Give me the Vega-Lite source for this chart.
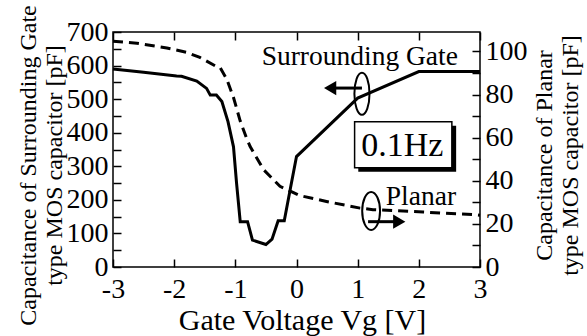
{
  "$schema": "https://vega.github.io/schema/vega-lite/v6.json",
  "autosize": {"type": "none"},
  "padding": {"left": 113, "top": 32, "right": 107, "bottom": 69},
  "width": 367,
  "height": 235,
  "config": {
    "view": {"stroke": "black", "strokeWidth": 1.5},
    "font": "Liberation Serif",
    "axis": {
      "labelFont": "Liberation Serif",
      "titleFont": "Liberation Serif",
      "labelColor": "black",
      "titleColor": "black",
      "labelFontSize": 28,
      "titleFontWeight": "normal",
      "grid": false,
      "domain": false,
      "tickColor": "black",
      "tickWidth": 1.5,
      "tickSize": -8,
      "labelPadding": 13,
      "labelOverlap": false
    }
  },
  "datasets": {
    "sg": [
      {"vg": -3, "c": 590}, {"vg": -2.5, "c": 580}, {"vg": -1.96, "c": 569},
      {"vg": -1.88, "c": 568}, {"vg": -1.63, "c": 554}, {"vg": -1.47, "c": 532},
      {"vg": -1.41, "c": 512}, {"vg": -1.31, "c": 512}, {"vg": -1.22, "c": 493},
      {"vg": -1.12, "c": 433}, {"vg": -1.06, "c": 383}, {"vg": -1.03, "c": 358},
      {"vg": -0.98, "c": 250}, {"vg": -0.92, "c": 135}, {"vg": -0.8, "c": 135},
      {"vg": -0.72, "c": 80}, {"vg": -0.5, "c": 67}, {"vg": -0.4, "c": 83},
      {"vg": -0.3, "c": 138}, {"vg": -0.2, "c": 138}, {"vg": -0.1, "c": 234},
      {"vg": 0, "c": 329}, {"vg": 1, "c": 503}, {"vg": 2, "c": 582}, {"vg": 3, "c": 582}
    ],
    "pl": [
      {"vg": -3, "c": 104.7}, {"vg": -2.61, "c": 103.8}, {"vg": -2.12, "c": 101.6},
      {"vg": -1.8, "c": 99.6}, {"vg": -1.58, "c": 97.2}, {"vg": -1.33, "c": 93.3},
      {"vg": -1.25, "c": 92.6}, {"vg": -1.14, "c": 87.1}, {"vg": -1.03, "c": 78.6},
      {"vg": -0.92, "c": 67.7}, {"vg": -0.82, "c": 60}, {"vg": -0.76, "c": 56},
      {"vg": -0.54, "c": 45.2}, {"vg": -0.27, "c": 37.4}, {"vg": 0.06, "c": 33.1},
      {"vg": 0.49, "c": 30.4}, {"vg": 1.04, "c": 27.3}, {"vg": 1.25, "c": 26.6},
      {"vg": 2.07, "c": 25.5}, {"vg": 2.94, "c": 24.2}, {"vg": 3, "c": 24}
    ],
    "shafts": [
      {"x1": 0.6, "x2": 1.07, "y": 533},
      {"x1": 1.17, "x2": 1.62, "y": 135}
    ],
    "headL": [{"x": 0.55, "y": 533}],
    "headR": [{"x": 1.68, "y": 135}],
    "ellA": [{"x": 1.07, "y": 516}],
    "ellB": [{"x": 1.22, "y": 167}],
    "box": [{"x1": 0.95, "x2": 2.54, "y1": 296, "y2": 433}],
    "shadow": [{"x1": 1.01, "x2": 2.61, "y1": 284, "y2": 421}],
    "labels": [
      {"x": -0.57, "y": 602, "t": "Surrounding Gate"},
      {"x": 1.46, "y": 185, "t": "Planar"}
    ],
    "hz": [{"x": 1.73, "y": 360, "t": "0.1Hz"}]
  },
  "layer": [
    {
      "data": {"name": "sg"},
      "mark": {"type": "line", "color": "black", "strokeWidth": 3},
      "encoding": {
        "x": {"field": "vg", "type": "quantitative",
          "scale": {"domain": [-3, 3], "nice": false},
          "axis": {"orient": "bottom", "values": [-3, -2, -1, 0, 1, 2, 3], "labelExpr": "'' + datum.value", "labelFont": "Liberation Serif", "labelFontSize": 28, "labelOverlap": false,
            "title": "Gate Voltage Vg [V]", "titleFontSize": 30, "titleX": 189, "labelPadding": 16, "titlePadding": 2, "labelFlush": false}},
        "y": {"field": "c", "type": "quantitative",
          "scale": {"domain": [0, 700], "nice": false},
          "axis": {"orient": "left", "values": [0, 50, 100, 150, 200, 250, 300, 350, 400, 450, 500, 550, 600, 650, 700],
            "labelExpr": "datum.value % 100 == 0 ? '' + datum.value : ''",
            "labelFont": "Liberation Serif", "labelFontSize": 28, "labelOverlap": false,
            "title": ["Capacitance of Surrounding Gate", "type MOS capacitor [pF]"],
            "titleFontSize": 24, "titleLineHeight": 26, "titlePadding": 0, "titleY": 133, "labelFlush": false}}
      }
    },
    {
      "data": {"name": "pl"},
      "mark": {"type": "line", "color": "black", "strokeWidth": 3, "strokeDash": [10, 6]},
      "encoding": {
        "x": {"field": "vg", "type": "quantitative",
          "axis": {"orient": "top", "values": [-3, -2, -1, 0, 1, 2, 3], "labels": false, "title": null}},
        "y": {"field": "c", "type": "quantitative",
          "scale": {"domain": [0, 109], "nice": false},
          "axis": {"orient": "right", "values": [0, 10, 20, 30, 40, 50, 60, 70, 80, 90, 100],
            "labelExpr": "datum.value % 20 == 0 ? '' + datum.value : ''",
            "labelFont": "Liberation Serif", "labelFontSize": 28, "labelOverlap": false,
            "title": ["Capacitance of Planar", "type MOS capacitor [pF]"],
            "titleAngle": -90, "titleFontSize": 24, "titleLineHeight": 26, "titlePadding": 3, "titleY": 123, "labelFlush": false}}
      }
    },
    {
      "data": {"name": "shafts"},
      "mark": {"type": "rule", "color": "black", "strokeWidth": 3},
      "encoding": {
        "x": {"field": "x1", "type": "quantitative", "axis": null},
        "x2": {"field": "x2"},
        "y": {"field": "y", "type": "quantitative", "scale": {"domain": [0, 700], "nice": false}, "axis": null}
      }
    },
    {
      "data": {"name": "headL"},
      "mark": {"type": "point", "shape": "triangle-left", "filled": true, "color": "black", "opacity": 1, "size": 200},
      "encoding": {
        "x": {"field": "x", "type": "quantitative", "axis": null},
        "y": {"field": "y", "type": "quantitative", "scale": {"domain": [0, 700], "nice": false}, "axis": null}
      }
    },
    {
      "data": {"name": "headR"},
      "mark": {"type": "point", "shape": "triangle-right", "filled": true, "color": "black", "opacity": 1, "size": 200},
      "encoding": {
        "x": {"field": "x", "type": "quantitative", "axis": null},
        "y": {"field": "y", "type": "quantitative", "scale": {"domain": [0, 700], "nice": false}, "axis": null}
      }
    },
    {
      "data": {"name": "ellA"},
      "mark": {"type": "point", "shape": "M0,-1A0.36,1 0 1,1 0,1A0.36,1 0 1,1 0,-1Z", "size": 1764, "filled": false, "color": "black", "strokeWidth": 2, "opacity": 1},
      "encoding": {
        "x": {"field": "x", "type": "quantitative", "axis": null},
        "y": {"field": "y", "type": "quantitative", "scale": {"domain": [0, 700], "nice": false}, "axis": null}
      }
    },
    {
      "data": {"name": "ellB"},
      "mark": {"type": "point", "shape": "M0,-1A0.47,1 0 1,1 0,1A0.47,1 0 1,1 0,-1Z", "size": 1444, "filled": false, "color": "black", "strokeWidth": 2, "opacity": 1},
      "encoding": {
        "x": {"field": "x", "type": "quantitative", "axis": null},
        "y": {"field": "y", "type": "quantitative", "scale": {"domain": [0, 700], "nice": false}, "axis": null}
      }
    },
    {
      "data": {"name": "shadow"},
      "mark": {"type": "rect", "color": "black"},
      "encoding": {
        "x": {"field": "x1", "type": "quantitative", "axis": null},
        "x2": {"field": "x2"},
        "y": {"field": "y1", "type": "quantitative", "scale": {"domain": [0, 700], "nice": false}, "axis": null},
        "y2": {"field": "y2"}
      }
    },
    {
      "data": {"name": "box"},
      "mark": {"type": "rect", "fill": "white", "stroke": "black", "strokeWidth": 1.5},
      "encoding": {
        "x": {"field": "x1", "type": "quantitative", "axis": null},
        "x2": {"field": "x2"},
        "y": {"field": "y1", "type": "quantitative", "scale": {"domain": [0, 700], "nice": false}, "axis": null},
        "y2": {"field": "y2"}
      }
    },
    {
      "data": {"name": "hz"},
      "mark": {"type": "text", "font": "Liberation Serif", "fontSize": 34, "color": "black", "baseline": "middle", "align": "center"},
      "encoding": {
        "x": {"field": "x", "type": "quantitative", "axis": null},
        "y": {"field": "y", "type": "quantitative", "scale": {"domain": [0, 700], "nice": false}, "axis": null},
        "text": {"field": "t"}
      }
    },
    {
      "data": {"name": "labels"},
      "mark": {"type": "text", "font": "Liberation Serif", "fontSize": 27.5, "color": "black", "baseline": "alphabetic", "align": "left"},
      "encoding": {
        "x": {"field": "x", "type": "quantitative", "axis": null},
        "y": {"field": "y", "type": "quantitative", "scale": {"domain": [0, 700], "nice": false}, "axis": null},
        "text": {"field": "t"}
      }
    }
  ],
  "resolve": {"scale": {"y": "independent"}, "axis": {"x": "independent"}}
}
